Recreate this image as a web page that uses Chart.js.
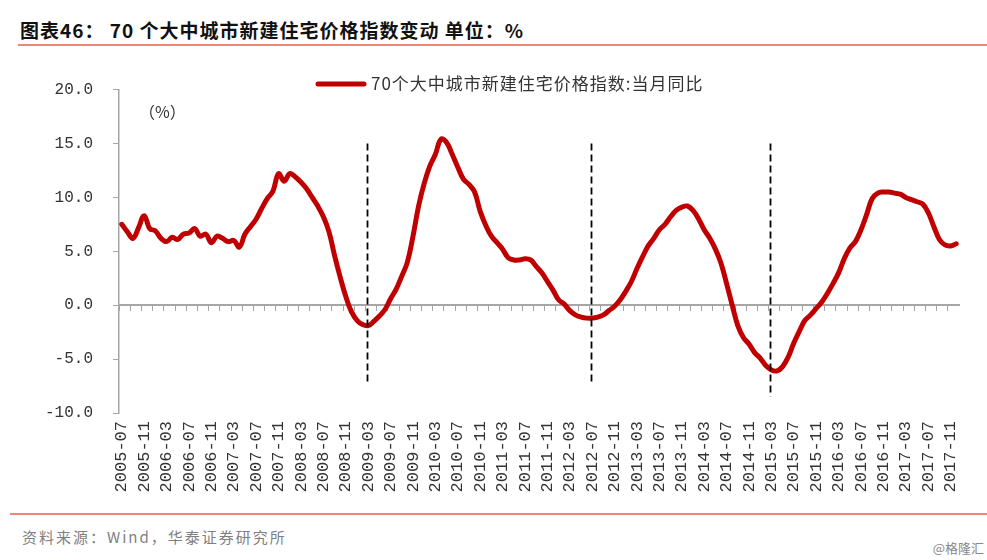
<!DOCTYPE html>
<html lang="zh-CN">
<head>
<meta charset="utf-8">
<title>70个大中城市新建住宅价格指数变动</title>
<script src="https://cdn.jsdelivr.net/npm/chart.js@4.4.1/dist/chart.umd.min.js"></script>
<style>
  html, body { margin: 0; padding: 0; background: #fff; }
  #page { position: relative; width: 987px; height: 560px; overflow: hidden; font-family: "Noto Sans CJK SC", sans-serif; }
  .title { position: absolute; left: 20px; top: 16px; font-size: 19px; font-weight: bold; letter-spacing: 1px; color: #111; white-space: nowrap; }
  .rule { position: absolute; height: 2px; background: #f08478; }
  #chartBox { position: absolute; left: 0; top: 60px; width: 987px; height: 445px; }
  .unit { position: absolute; left: 139px; top: 99px; font-size: 16px; color: #333; }
  .source { position: absolute; left: 22px; top: 526px; font-size: 15px; color: #7f7f7f; letter-spacing: 2px; white-space: nowrap; }
  .mark { position: absolute; right: 3px; top: 538px; font-size: 13px; color: #888; }
</style>
</head>
<body>
<div id="page">
  <div class="title">图表46： 70 个大中城市新建住宅价格指数变动 单位：%</div>
  <div class="rule" style="left:18px; top:44px; width:969px;"></div>
  <div id="chartBox"><canvas id="priceChart"></canvas></div>
  <div class="unit">（%）</div>
  <div class="rule" style="left:10px; top:513px; width:977px;"></div>
  <div class="source">资料来源：Wind，华泰证券研究所</div>
  <div class="mark">@格隆汇</div>
</div>
<script>
// months 2005-07 .. 2017-12
const startYear = 2005;
const startMonth = 7;
const monthCount = 150;

// 当月同比 (%)
const y2005 = [7.5, 6.8, 6.2, 7.2, 8.3, 7.1];
const y2006 = [6.9, 6.2, 5.9, 6.3, 6.1, 6.6, 6.7, 7.1, 6.4, 6.6, 5.8, 6.4];
const y2007 = [6.2, 5.9, 6.0, 5.4, 6.6, 7.3, 8.0, 9.0, 9.9, 10.6, 12.2, 11.5];
const y2008 = [12.2, 11.9, 11.4, 10.8, 10.0, 9.2, 8.2, 6.8, 4.6, 2.6, 0.8, -0.6];
const y2009 = [-1.4, -1.8, -1.9, -1.5, -1.0, -0.4, 0.6, 1.5, 2.7, 4.0, 6.4, 9.2];
const y2010 = [11.3, 12.9, 14.0, 15.4, 15.1, 14.0, 12.8, 11.7, 11.2, 10.5, 8.7, 7.4];
const y2011 = [6.4, 5.8, 5.2, 4.4, 4.2, 4.2, 4.3, 4.2, 3.6, 3.0, 2.2, 1.4];
const y2012 = [0.5, 0.1, -0.5, -0.9, -1.1, -1.2, -1.2, -1.1, -0.9, -0.5, -0.1, 0.5];
const y2013 = [1.3, 2.2, 3.4, 4.5, 5.5, 6.2, 7.0, 7.5, 8.2, 8.8, 9.1, 9.2];
const y2014 = [8.8, 8.0, 7.0, 6.2, 5.2, 3.9, 2.0, 0.0, -1.9, -3.0, -3.6, -4.4];
const y2015 = [-4.9, -5.6, -6.0, -6.1, -5.7, -4.8, -3.5, -2.4, -1.4, -0.9, -0.3, 0.3];
const y2016 = [1.1, 2.0, 3.0, 4.3, 5.3, 5.9, 7.0, 8.4, 9.9, 10.4, 10.5, 10.5];
const y2017 = [10.4, 10.3, 10.0, 9.8, 9.6, 9.4, 8.6, 7.3, 6.1, 5.6, 5.5, 5.7];

// vertical dashed guides at the troughs
const guideMonths = ['2009-03', '2012-07', '2015-03'];
const guideTop = [15, 15, 15];
const guideBottom = [-7.1, -7.2, -8.5];

const seriesName = '70个大中城市新建住宅价格指数:当月同比';

const months = [];
for (let i = 0; i < monthCount; i++) {
  const m = startMonth - 1 + i;
  months.push((startYear + Math.floor(m / 12)) + '-' + String(m % 12 + 1).padStart(2, '0'));
}
const yoy = [].concat(y2005, y2006, y2007, y2008, y2009, y2010, y2011, y2012,
                      y2013, y2014, y2015, y2016, y2017);

const axisGray = '#a6a6a6';
const yTickFont = { family: '"Liberation Mono", monospace', size: 16 };
const xTickFont = { family: '"Liberation Mono", monospace', size: 17 };

const guidePlugin = {
  id: 'guides',
  afterDatasetsDraw(chart) {
    const { ctx, scales } = chart;
    ctx.save();
    ctx.strokeStyle = '#000';
    ctx.lineWidth = 1.8;
    ctx.setLineDash([7, 4]);
    guideMonths.forEach((m, i) => {
      const x = Math.round(scales.x.getPixelForValue(months.indexOf(m))) - 0.5;
      ctx.beginPath();
      ctx.moveTo(x, scales.y.getPixelForValue(guideTop[i]));
      ctx.lineTo(x, scales.y.getPixelForValue(guideBottom[i]));
      ctx.stroke();
    });
    ctx.restore();
  }
};

const legendPlugin = {
  id: 'lineLegend',
  afterDraw(chart) {
    const { ctx } = chart;
    const ds = chart.data.datasets[0];
    ctx.save();
    ctx.strokeStyle = ds.borderColor;
    ctx.lineWidth = 5;
    ctx.lineCap = 'round';
    ctx.beginPath();
    ctx.moveTo(318, 24);
    ctx.lineTo(364, 24);
    ctx.stroke();
    ctx.fillStyle = '#333';
    ctx.font = '17px "Noto Sans CJK SC", sans-serif';
    ctx.textBaseline = 'middle';
    if ('letterSpacing' in ctx) ctx.letterSpacing = '1px';
    ctx.fillText(ds.label, 371, 24);
    ctx.restore();
  }
};

new Chart(document.getElementById('priceChart'), {
  type: 'line',
  data: {
    labels: months,
    datasets: [{
      label: seriesName,
      data: yoy,
      xAxisID: 'x',
      yAxisID: 'y',
      borderColor: '#c00000',
      backgroundColor: '#c00000',
      borderWidth: 5,
      borderCapStyle: 'round',
      borderJoinStyle: 'round',
      tension: 0.4,
      pointRadius: 0,
      fill: false
    }]
  },
  options: {
    responsive: true,
    maintainAspectRatio: false,
    animation: false,
    layout: { padding: { top: 23, right: 28, left: 0, bottom: 0 } },
    plugins: {
      legend: { display: false },
      tooltip: { enabled: false }
    },
    scales: {
      y: {
        min: -10,
        max: 20,
        afterFit: s => { s.width = 119; },
        ticks: {
          stepSize: 5,
          color: '#333',
          font: yTickFont,
          padding: 20,
          callback: v => v.toFixed(1)
        },
        grid: { drawOnChartArea: false, drawTicks: true, tickLength: 6, color: axisGray },
        border: { display: true, color: axisGray, width: 1.5 }
      },
      x: {
        type: 'category',
        position: 'bottom',
        offset: true,
        afterFit: s => { s.height = 92; },
        ticks: {
          autoSkip: false,
          minRotation: 90,
          maxRotation: 90,
          padding: 8,
          color: '#333',
          font: xTickFont,
          callback: function (val, idx) { return idx % 4 === 0 ? this.getLabelForValue(val) : ''; }
        },
        grid: { display: false, drawTicks: false },
        border: { display: false }
      },
      x2: {
        type: 'category',
        position: { y: 0 },
        offset: true,
        afterFit: s => { s.height = 0; },
        ticks: { display: false, autoSkip: false },
        grid: {
          offset: true,
          drawOnChartArea: false,
          drawTicks: true,
          tickLength: 5,
          color: ctx => ctx.index % 2 === 0 ? axisGray : 'rgba(0,0,0,0)'
        },
        border: { display: true, color: axisGray, width: 2 }
      }
    }
  },
  plugins: [guidePlugin, legendPlugin]
});
</script>
</body>
</html>
